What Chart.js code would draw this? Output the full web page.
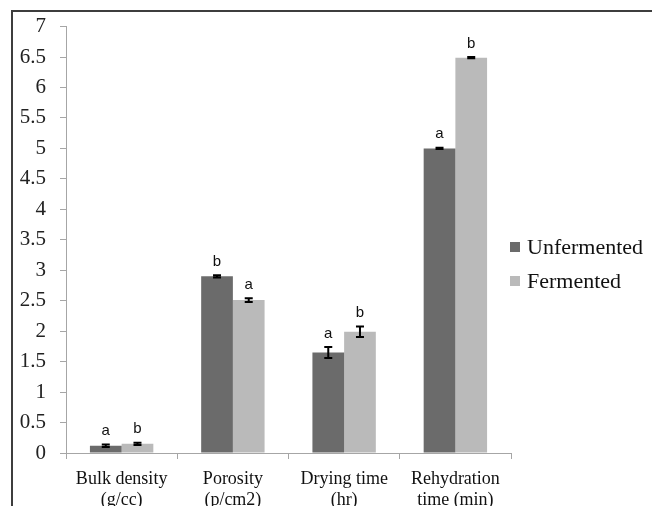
<!DOCTYPE html>
<html>
<head>
<meta charset="utf-8">
<script src="https://cdn.jsdelivr.net/npm/chart.js@4/dist/chart.umd.min.js"></script>
<style>
  body { margin: 0; background: #fff; }
  #wrap { position: relative; width: 652px; height: 506px; overflow: hidden; }
  #frame {
    position: absolute; left: 11px; top: 10px; width: 660px; height: 520px;
    border-top: 2px solid #3d3d3d; border-left: 2px solid #3d3d3d;
    pointer-events: none;
  }
  canvas { position: absolute; left: 0; top: 0; }
</style>
</head>
<body>
<div id="wrap">
  <canvas id="chart" width="652" height="506"></canvas>
  <div id="frame"></div>
</div>
<script>
// data
const categories = [
  ['Bulk density', '(g/cc)'],
  ['Porosity', '(p/cm2)'],
  ['Drying time', '(hr)'],
  ['Rehydration', 'time (min)']
];
const unfermented = [0.12, 2.9, 1.65, 5.0];
const fermented = [0.15, 2.51, 1.99, 6.49];
const unfermentedErr = [0.02, 0.02, 0.09, 0.01];
const fermentedErr = [0.02, 0.03, 0.085, 0.01];
const unfermentedLetters = ['a', 'b', 'a', 'a'];
const fermentedLetters = ['b', 'a', 'b', 'b'];

const serif = "'Liberation Serif', 'Times New Roman', serif";

// error bars + significance letters
const errorBars = {
  id: 'errorBars',
  afterDatasetsDraw(chart) {
    const ctx = chart.ctx;
    const y = chart.scales.y;
    chart.data.datasets.forEach((ds, i) => {
      const meta = chart.getDatasetMeta(i);
      meta.data.forEach((bar, j) => {
        const v = ds.data[j], e = ds.errors[j];
        const top = y.getPixelForValue(v + e);
        const bot = y.getPixelForValue(v - e);
        ctx.save();
        ctx.strokeStyle = '#000';
        ctx.lineWidth = 2;
        ctx.beginPath();
        ctx.moveTo(bar.x, top); ctx.lineTo(bar.x, bot);
        ctx.moveTo(bar.x - 4, top); ctx.lineTo(bar.x + 4, top);
        ctx.moveTo(bar.x - 4, bot); ctx.lineTo(bar.x + 4, bot);
        ctx.stroke();
        ctx.fillStyle = '#111';
        ctx.font = "15px 'Liberation Sans', Arial, sans-serif";
        ctx.textAlign = 'center';
        ctx.textBaseline = 'bottom';
        ctx.fillText(ds.letters[j], bar.x, top - 6);
        ctx.restore();
      });
    });
  }
};

// legend drawn next to the plot, Excel style
const sideLegend = {
  id: 'sideLegend',
  afterDraw(chart) {
    const ctx = chart.ctx;
    ctx.save();
    ctx.font = '22px ' + serif;
    ctx.textBaseline = 'middle';
    chart.data.datasets.forEach((ds, i) => {
      const cy = 247 + i * 34;
      ctx.fillStyle = ds.backgroundColor;
      ctx.fillRect(510, cy - 5, 10, 10);
      ctx.fillStyle = '#111';
      ctx.fillText(ds.label, 527, cy + 1);
    });
    ctx.restore();
  }
};

new Chart(document.getElementById('chart'), {
  type: 'bar',
  data: {
    labels: categories,
    datasets: [
      { label: 'Unfermented', data: unfermented, errors: unfermentedErr, letters: unfermentedLetters,
        backgroundColor: '#6b6b6b', barPercentage: 1, categoryPercentage: 0.57 },
      { label: 'Fermented', data: fermented, errors: fermentedErr, letters: fermentedLetters,
        backgroundColor: '#bababa', barPercentage: 1, categoryPercentage: 0.57 }
    ]
  },
  options: {
    responsive: false,
    animation: false,
    layout: { padding: { left: 0, top: 23, right: 141, bottom: 0 } },
    plugins: { legend: { display: false }, tooltip: { enabled: false } },
    scales: {
      x: {
        grid: { drawOnChartArea: false, drawTicks: true, tickLength: 6, color: '#a6a6a6', offset: true },
        border: { color: '#a6a6a6', width: 1 },
        ticks: { color: '#111', font: { family: serif, size: 18 }, padding: 9, maxRotation: 0, autoSkip: false },
        afterFit(s) { s.height = 53; }
      },
      y: {
        min: 0, max: 7,
        grid: { drawOnChartArea: false, drawTicks: true, tickLength: 6, color: '#a6a6a6' },
        border: { color: '#a6a6a6', width: 1 },
        ticks: {
          stepSize: 0.5, color: '#222', font: { family: serif, size: 21 }, padding: 14,
          callback: v => String(Number(v))
        },
        afterFit(s) { s.width = 66; }
      }
    }
  },
  plugins: [errorBars, sideLegend]
});
</script>
</body>
</html>
